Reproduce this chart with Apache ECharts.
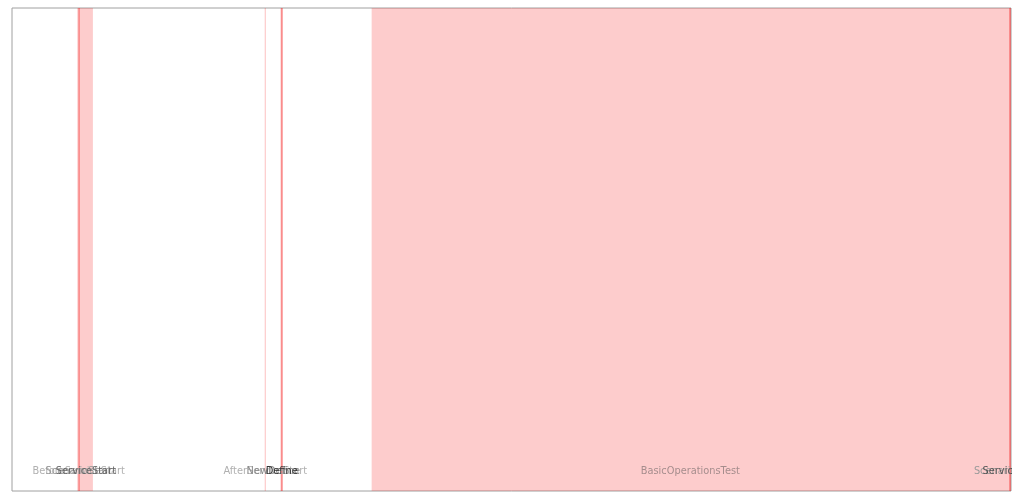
<!DOCTYPE html>
<html>
<head>
<meta charset="utf-8">
<script src="https://cdn.jsdelivr.net/npm/echarts@6/dist/echarts.min.js"></script>
<style>html,body{margin:0;padding:0;background:#fff}#c{width:1024px;height:500px}</style>
</head>
<body>
<div id="c"></div>
<script>
// Timeline phases (seconds)
const phaseNames = ["BeforeServiceStart","ScenarioStart","ServiceStart","AfterServiceStart","NewDefine","Define","BasicOperationsTest","ScenarioEnd","ServiceEnd"];
const phaseStart = [6.55, 6.62, 6.7, 25.3, 25.9, 26.9, 36.0, 98.9, 99.8];
const phaseEnd   = [6.8, 6.75, 8.1, 25.4, 26.4, 27.1, 99.8, 99.8, 100.0];
const axisMin = 0, axisMax = 100;

// styles (separate from data)
const fills  = ["rgba(245,0,0,0.25)","rgba(245,0,0,0.2)","rgba(245,0,0,0.2)","rgba(245,0,0,0.25)","rgba(0,0,0,0)","rgba(245,0,0,0.45)","rgba(245,0,0,0.2)","rgba(0,0,0,0)","rgba(245,0,0,0.45)"];
const labelColors = ["#b0b0b0","#9a9a9a","#666","#b0b0b0","#8a8a8a","#333","#a58c8c","#999","#555"];

const areas = phaseNames.map((n,i)=>[
  {name:n, xAxis:phaseStart[i], itemStyle:{color:fills[i]},
   label:{color:labelColors[i]}},
  {xAxis:phaseEnd[i]}
]);

const chart = echarts.init(document.getElementById('c'), null, {renderer:'canvas'});
chart.setOption({
  animation:false,
  grid:{left:12,right:13,top:8,bottom:9,show:true,borderColor:'#a0a0a0',borderWidth:1,backgroundColor:'transparent'},
  xAxis:{type:'value',min:axisMin,max:axisMax,show:false},
  yAxis:{type:'value',min:0,max:1,show:false},
  graphic:[{type:'rect',right:0,top:0,shape:{width:12,height:500},style:{fill:'#fff'},z:100}],
  series:[{
    type:'line',data:[],
    markArea:{
      silent:true,
      label:{show:true,position:'insideBottom',distance:15,fontSize:9.8,fontFamily:'DejaVu Sans'},
      itemStyle:{borderWidth:0},
      data:areas
    }
  }]
});
</script>
</body>
</html>
